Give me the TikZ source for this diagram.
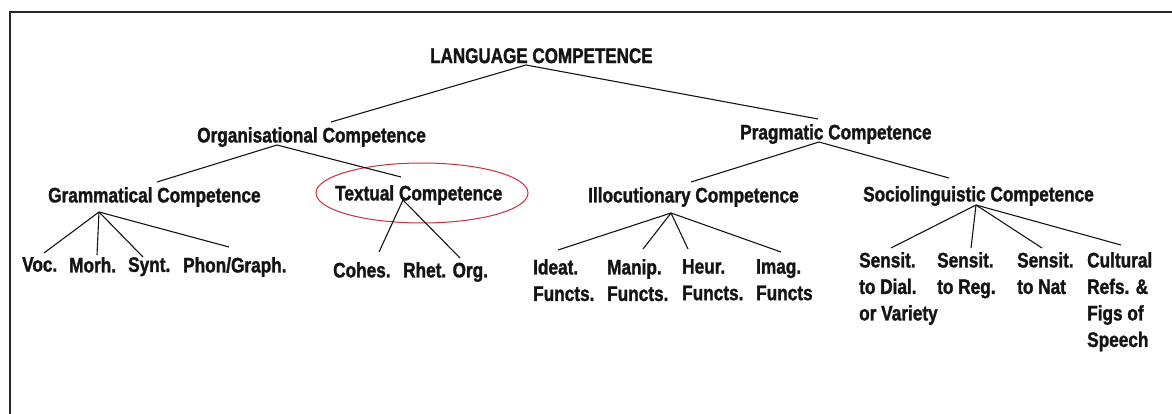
\documentclass[tikz,border=0pt]{standalone}
\usepackage{fontspec}
\newfontfamily\cf{Liberation Sans Bold}[FakeStretch=0.82, FakeBold=1.4]
\newfontfamily\tf{Liberation Sans Bold}[FakeStretch=0.80, FakeBold=1.4]
\definecolor{ink}{RGB}{20,20,20}
\definecolor{ellred}{RGB}{205,45,65}
\tikzset{
  lbl/.style={inner sep=0pt, anchor=north west, text=ink, align=left,
              font={\cf\fontsize{21}{26.5}\selectfont}},
  ttl/.style={inner sep=0pt, anchor=north west, text=ink,
              font={\tf\fontsize{21.3}{24}\selectfont}},
  conn/.style={draw=ink, line width=1.1pt},
  framestyle/.style={draw=black!85, line width=2pt},
  highlight/.style={draw=ellred, line width=1pt}
}
\begin{document}
\begin{tikzpicture}[x=1pt,y=-1pt]
\useasboundingbox (0,0) rectangle (1172,414);
% frame (top and left edges)
\coordinate (fA) at (10,414);
\coordinate (fB) at (10,12);
\coordinate (fC) at (1172,12);
\draw[framestyle] (fA) -- (fB) -- (fC);

% nodes
\node[ttl] (lc) at (430,48) {LANGUAGE COMPETENCE};
\node[lbl] (org) at (197,127) {Organisational Competence};
\node[lbl] (prag) at (740,124) {Pragmatic Competence};
\node[lbl] (gram) at (48,187) {Grammatical Competence};
\node[lbl] (text) at (335,185) {Textual Competence};
\node[lbl] (illoc) at (588,187) {Illocutionary Competence};
\node[lbl] (socio) at (863,186) {Sociolinguistic Competence};

\node[lbl] (voc) at (22,257) {Voc.};
\node[lbl] (morh) at (69,257) {Morh.};
\node[lbl] (synt) at (128,257) {Synt.};
\node[lbl] (phon) at (183,257) {Phon/Graph.};

\node[lbl] (cohes) at (333,262) {Cohes.};
\node[lbl] (rhet) at (403,262) {Rhet. Org.};

\node[lbl] (ideat) at (533,259) {Ideat.\\Functs.};
\node[lbl] (manip) at (607,259) {Manip.\\Functs.};
\node[lbl] (heur) at (682,259) {Heur.\\Functs.};
\node[lbl] (imag) at (756,259) {Imag.\\Functs};

\node[lbl] (sdial) at (859,252) {Sensit.\\to Dial.\\or Variety};
\node[lbl] (sreg) at (937,252) {Sensit.\\to Reg.};
\node[lbl] (snat) at (1017,252) {Sensit.\\to Nat};
\node[lbl] (cult) at (1087,252) {Cultural\\Refs. \&\\Figs of\\Speech};

% highlight ellipse round Textual Competence
\draw[highlight] (422,193) ellipse [x radius=106, y radius=30];

% connector points
\coordinate (lcA) at (526,65);
\coordinate (orgT) at (331,122);
\coordinate (pragT) at (818,119);
\coordinate (orgA) at (277,145);
\coordinate (gramT) at (157,182);
\coordinate (textT) at (401,177);
\coordinate (pragA) at (819,142);
\coordinate (illocT) at (691,182);
\coordinate (socioT) at (949,178);
\coordinate (gramA) at (99,212);
\coordinate (vocT) at (44,253);
\coordinate (morhT) at (97,255);
\coordinate (syntT) at (143,257);
\coordinate (phonT) at (229,247);
\coordinate (textA) at (403,200);
\coordinate (cohesT) at (379,252);
\coordinate (rhetT) at (460,258);
\coordinate (illocA) at (671,213);
\coordinate (ideatT) at (558,250);
\coordinate (manipT) at (643,249);
\coordinate (heurT) at (688,249);
\coordinate (imagT) at (781,252);
\coordinate (socioA) at (976,205);
\coordinate (sdialT) at (891,248);
\coordinate (sregT) at (971,248);
\coordinate (snatT) at (1042,248);
\coordinate (cultT) at (1121,245);

% connectors
\draw[conn] (orgT) -- (lcA) -- (pragT);
\draw[conn] (gramT) -- (orgA) -- (textT);
\draw[conn] (illocT) -- (pragA) -- (socioT);
\draw[conn] (gramA) -- (vocT);
\draw[conn] (gramA) -- (morhT);
\draw[conn] (gramA) -- (syntT);
\draw[conn] (gramA) -- (phonT);
\draw[conn] (textA) -- (cohesT);
\draw[conn] (textA) -- (rhetT);
\draw[conn] (illocA) -- (ideatT);
\draw[conn] (illocA) -- (manipT);
\draw[conn] (illocA) -- (heurT);
\draw[conn] (illocA) -- (imagT);
\draw[conn] (socioA) -- (sdialT);
\draw[conn] (socioA) -- (sregT);
\draw[conn] (socioA) -- (snatT);
\draw[conn] (socioA) -- (cultT);
\end{tikzpicture}
\end{document}
